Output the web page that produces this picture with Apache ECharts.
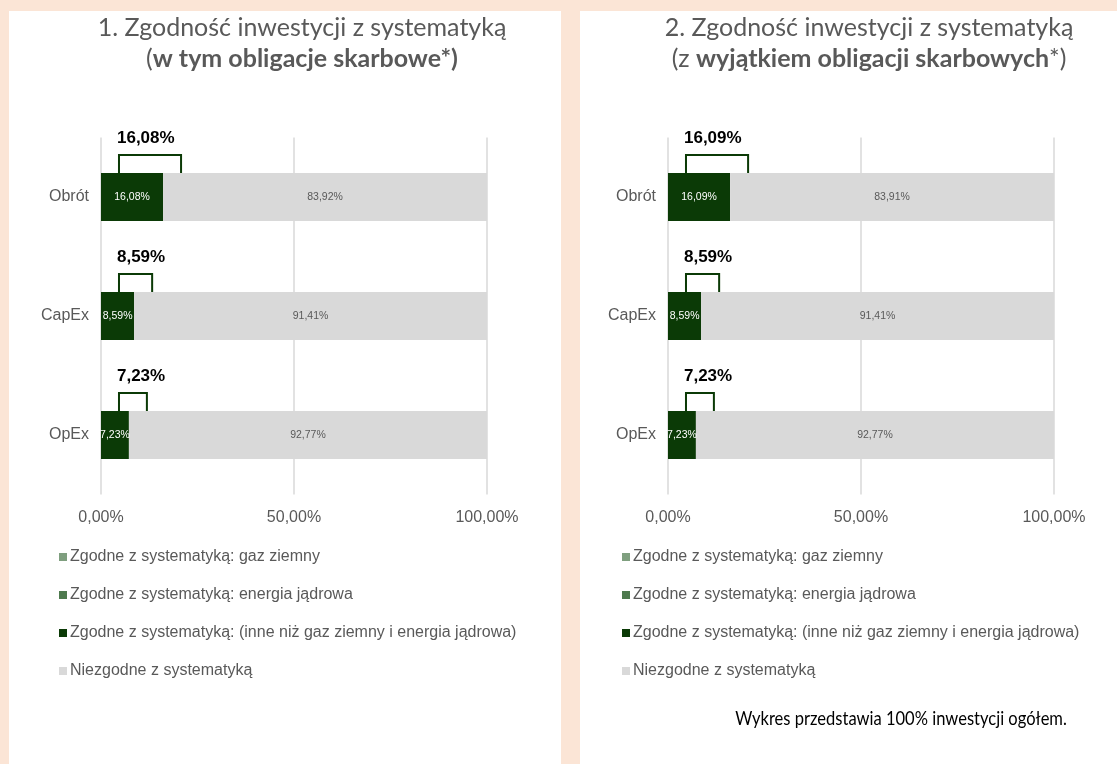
<!DOCTYPE html>
<html>
<head>
<meta charset="utf-8">
<script src="https://cdn.jsdelivr.net/npm/echarts@6/dist/echarts.min.js"></script>
<style>
    html, body { margin: 0; padding: 0; }
    body { width: 1117px; height: 764px; background: #FBE5D6; position: relative; overflow: hidden; }
    .panel { position: absolute; top: 11px; background: #fff; }
    #panel1 { left: 9px; width: 552px; height: 753px; }
    #panel2 { left: 580px; width: 537px; height: 753px; }
    #chart { position: absolute; left: 0; top: 0; width: 1117px; height: 764px; }
</style>
</head>
<body>
<div class="panel" id="panel1"></div>
<div class="panel" id="panel2"></div>
<div id="chart"></div>
<script>
// dane wykresu
const categories = ['Obrót', 'CapEx', 'OpEx'];
const xTicks = [0, 50, 100];
const seriesNames = [
    'Zgodne z systematyką: gaz ziemny',
    'Zgodne z systematyką: energia jądrowa',
    'Zgodne z systematyką: (inne niż gaz ziemny i energia jądrowa)',
    'Niezgodne z systematyką'
];
// 1. w tym obligacje skarbowe
const gaz1 = [0, 0, 0];
const jadrowa1 = [0, 0, 0];
const inne1 = [16.08, 8.59, 7.23];
const niezgodne1 = [83.92, 91.41, 92.77];
// 2. z wyjatkiem obligacji skarbowych
const gaz2 = [0, 0, 0];
const jadrowa2 = [0, 0, 0];
const inne2 = [16.09, 8.59, 7.23];
const niezgodne2 = [83.91, 91.41, 92.77];

const colors = ['#7F9F7F', '#4E7A4E', '#0B3A06', '#D9D9D9'];
const gray = '#595959';
const fontAxis = '"Liberation Sans", Arial, sans-serif';
const fontTitle = 'Lato, "Open Sans", sans-serif';
const BRACKET_START = 4.66; // poczatek klamry (w jednostkach osi)

function pct(v) {
    return v.toFixed(2).replace('.', ',') + '%';
}

function bars(idx, gaz, jadrowa, inne, niezgodne) {
    const data = [gaz, jadrowa, inne, niezgodne];
    return data.map(function (d, i) {
        return {
            name: seriesNames[i],
            type: 'bar',
            stack: 'g' + idx,
            xAxisIndex: idx,
            yAxisIndex: idx,
            barWidth: 48,
            data: d,
            itemStyle: { color: colors[i] },
            label: {
                show: i >= 2,
                position: 'inside',
                color: i === 2 ? '#fff' : gray,
                fontSize: 10.5,
                fontFamily: fontAxis,
                formatter: function (p) { return pct(p.value); }
            },
            emphasis: { disabled: true }
        };
    });
}

// klamra nad zielonym slupkiem
function bracket(idx, inne) {
    return {
        type: 'custom',
        xAxisIndex: idx,
        yAxisIndex: idx,
        data: inne.map(function (v, i) { return [v, i]; }),
        silent: true,
        z: 10,
        renderItem: function (params, api) {
            const v = api.value(0);
            const c = api.value(1);
            const p0 = api.coord([BRACKET_START, c]);
            const p1 = api.coord([BRACKET_START + v, c]);
            const yb = p0[1] - 24;
            const yt = p0[1] - 42;
            return {
                type: 'group',
                children: [{
                    type: 'polyline',
                    shape: { points: [[p0[0], yb], [p0[0], yt], [p1[0], yt], [p1[0], yb]] },
                    style: { stroke: '#0B3A06', lineWidth: 2, fill: null }
                }, {
                    type: 'text',
                    style: {
                        x: p0[0] - 2,
                        y: p0[1] - 59,
                        text: pct(v),
                        align: 'left',
                        verticalAlign: 'middle',
                        font: 'bold 17px ' + fontAxis,
                        fill: '#000'
                    }
                }]
            };
        }
    };
}

function xAxis(idx) {
    return {
        type: 'value',
        gridIndex: idx,
        min: xTicks[0],
        max: xTicks[xTicks.length - 1],
        interval: xTicks[1] - xTicks[0],
        axisLine: { show: false },
        axisTick: { show: false },
        splitLine: { lineStyle: { color: '#D9D9D9', width: 1.5 } },
        axisLabel: {
            color: gray,
            fontSize: 16,
            fontFamily: fontAxis,
            margin: 15,
            formatter: function (v) { return pct(v); }
        }
    };
}

function yAxis(idx) {
    return {
        type: 'category',
        gridIndex: idx,
        data: categories,
        inverse: true,
        axisLine: { show: false },
        axisTick: { show: false },
        axisLabel: { color: gray, fontSize: 16, fontFamily: fontAxis, margin: 12 }
    };
}

function legend(left) {
    return {
        orient: 'vertical',
        left: left,
        top: 544,
        itemGap: 22,
        itemWidth: 8,
        itemHeight: 8,
        icon: 'rect',
        selectedMode: false,
        data: seriesNames,
        textStyle: { color: gray, fontSize: 16, fontFamily: fontAxis, padding: [0, 0, 0, -2] }
    };
}

function title(left, line1, rich2) {
    return {
        left: left,
        top: 7,
        textAlign: 'center',
        text: line1 + '\n' + rich2,
        textStyle: {
            color: gray,
            fontSize: 25,
            fontWeight: 'normal',
            fontFamily: fontTitle,
            lineHeight: 31,
            rich: {
                n: { color: gray, fontSize: 25, fontFamily: fontTitle, lineHeight: 31 },
                b: { color: gray, fontSize: 25, fontWeight: 'bold', fontFamily: fontTitle, lineHeight: 31 }
            }
        }
    };
}

const myChart = echarts.init(document.getElementById('chart'), null, { renderer: 'canvas' });
myChart.setOption({
    animation: false,
    backgroundColor: 'transparent',
    title: [
        title(297, '1. Zgodność inwestycji z systematyką', '{n|(}{b|w tym obligacje skarbowe*)}'),
        title(864, '2. Zgodność inwestycji z systematyką', '{n|(z }{b|wyjątkiem obligacji skarbowych}{n|*)}')
    ],
    legend: [legend(54), legend(617)],
    grid: [
        { left: 101, width: 386, top: 137.5, height: 357 },
        { left: 668, width: 386, top: 137.5, height: 357 }
    ],
    xAxis: [xAxis(0), xAxis(1)],
    yAxis: [yAxis(0), yAxis(1)],
    graphic: [{
        type: 'text',
        x: 901,
        y: 719,
        scaleX: 0.87,
        style: {
            text: 'Wykres przedstawia 100% inwestycji ogółem.',
            font: '19px ' + fontTitle,
            fill: '#000',
            align: 'center',
            verticalAlign: 'middle'
        }
    }],
    series: [].concat(
        bars(0, gaz1, jadrowa1, inne1, niezgodne1),
        bars(1, gaz2, jadrowa2, inne2, niezgodne2),
        [bracket(0, inne1), bracket(1, inne2)]
    )
});
window.onresize = function () { myChart.resize(); };
</script>
</body>
</html>
